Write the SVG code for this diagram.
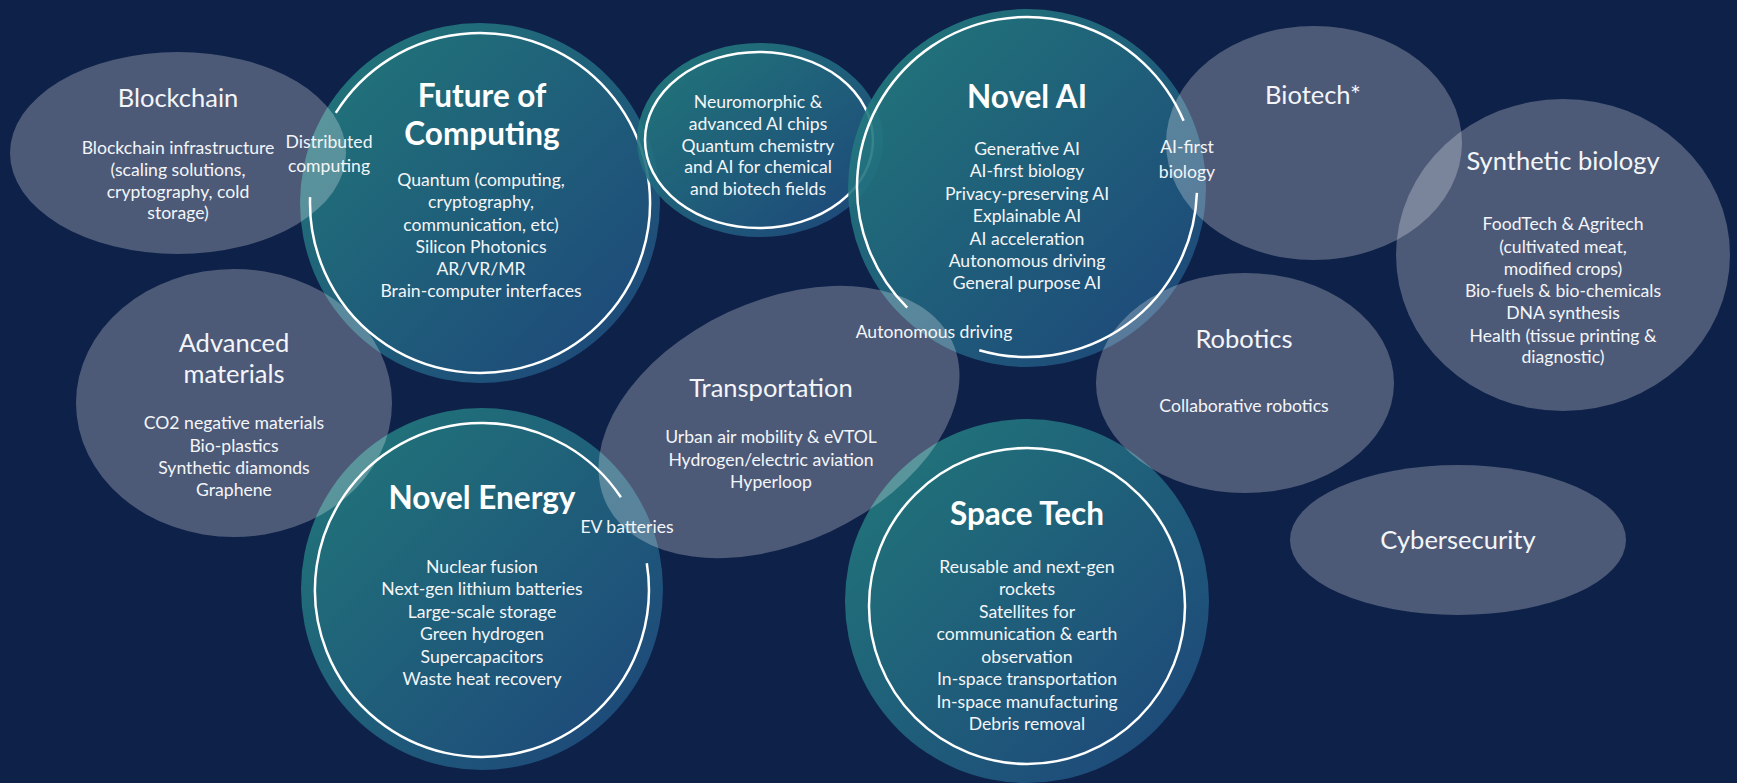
<svg xmlns="http://www.w3.org/2000/svg" width="1737" height="783" viewBox="0 0 1737 783">
<defs>
<linearGradient id="hubGrad" x1="0" y1="0" x2="1" y2="1">
<stop offset="0" stop-color="#23827f"/>
<stop offset="1" stop-color="#1f487f"/>
</linearGradient>
<style>
.hub{fill:url(#hubGrad);opacity:0.9}
.ring{fill:none;stroke:#ffffff;stroke-width:2.5}
.gray{fill:#ffffff;fill-opacity:0.26}
text{font-family:Lato,"Liberation Sans",sans-serif;fill:#f4f5f8;text-anchor:middle}
.h{font-size:31.5px;font-weight:bold;fill:#ffffff}
.gt{font-size:25.5px}
.b{font-size:17.6px}
</style>
</defs>
<rect x="0" y="0" width="1737" height="783" fill="#0e2149"/>

<g id="future-of-computing">
<circle class="hub" cx="480" cy="203" r="180"/>
<path class="ring" d="M 335.8 112.9 A 170 170 0 1 1 310.1 197.1"/>
<text class="h" x="482" y="107">Future of</text>
<text class="h" x="482" y="145">Computing</text>
<text class="b" x="481" y="186">Quantum (computing,</text>
<text class="b" x="481" y="208">cryptography,</text>
<text class="b" x="481" y="231">communication, etc)</text>
<text class="b" x="481" y="253">Silicon Photonics</text>
<text class="b" x="481" y="275">AR/VR/MR</text>
<text class="b" x="481" y="297">Brain-computer interfaces</text>
</g>

<g id="neuromorphic">
<ellipse class="hub" cx="760" cy="140" rx="123" ry="97"/>
<ellipse class="ring" cx="759" cy="140" rx="114" ry="88"/>
<text class="b" x="758" y="108">Neuromorphic &amp;</text>
<text class="b" x="758" y="130">advanced AI chips</text>
<text class="b" x="758" y="152">Quantum chemistry</text>
<text class="b" x="758" y="173">and AI for chemical</text>
<text class="b" x="758" y="195">and biotech fields</text>
</g>

<g id="novel-ai">
<circle class="hub" cx="1027" cy="188" r="179"/>
<path class="ring" d="M 1196.9 192.9 A 170 170 0 0 1 979.3 350.2"/>
<path class="ring" d="M 907.2 307.6 A 170 170 0 1 1 1183.6 120.8"/>
<text class="h" x="1027" y="108">Novel AI</text>
<text class="b" x="1027" y="155">Generative AI</text>
<text class="b" x="1027" y="177">AI-first biology</text>
<text class="b" x="1027" y="200">Privacy-preserving AI</text>
<text class="b" x="1027" y="222">Explainable AI</text>
<text class="b" x="1027" y="245">AI acceleration</text>
<text class="b" x="1027" y="267">Autonomous driving</text>
<text class="b" x="1027" y="289">General purpose AI</text>
</g>

<g id="novel-energy">
<circle class="hub" cx="482" cy="589" r="181"/>
<path class="ring" d="M 646.8 563.3 A 167 167 0 1 1 620.9 497.3"/>
<text class="h" x="482" y="509">Novel Energy</text>
<text class="b" x="482" y="573">Nuclear fusion</text>
<text class="b" x="482" y="595">Next-gen lithium batteries</text>
<text class="b" x="482" y="618">Large-scale storage</text>
<text class="b" x="482" y="640">Green hydrogen</text>
<text class="b" x="482" y="663">Supercapacitors</text>
<text class="b" x="482" y="685">Waste heat recovery</text>
</g>

<g id="space-tech">
<circle class="hub" cx="1027" cy="601" r="182"/>
<circle class="ring" cx="1027" cy="606" r="158"/>
<text class="h" x="1027" y="525">Space Tech</text>
<text class="b" x="1027" y="573">Reusable and next-gen</text>
<text class="b" x="1027" y="595">rockets</text>
<text class="b" x="1027" y="618">Satellites for</text>
<text class="b" x="1027" y="640">communication &amp; earth</text>
<text class="b" x="1027" y="663">observation</text>
<text class="b" x="1027" y="685">In-space transportation</text>
<text class="b" x="1027" y="708">In-space manufacturing</text>
<text class="b" x="1027" y="730">Debris removal</text>
</g>

<g id="blockchain">
<ellipse class="gray" cx="178" cy="153" rx="168" ry="101"/>
<text class="gt" x="178" y="107">Blockchain</text>
<text class="b" x="178" y="154">Blockchain infrastructure</text>
<text class="b" x="178" y="176">(scaling solutions,</text>
<text class="b" x="178" y="198">cryptography, cold</text>
<text class="b" x="178" y="219">storage)</text>
</g>

<g id="advanced-materials">
<ellipse class="gray" cx="234" cy="403" rx="158" ry="134"/>
<text class="gt" x="234" y="352">Advanced</text>
<text class="gt" x="234" y="383">materials</text>
<text class="b" x="234" y="429">CO2 negative materials</text>
<text class="b" x="234" y="452">Bio-plastics</text>
<text class="b" x="234" y="474">Synthetic diamonds</text>
<text class="b" x="234" y="496">Graphene</text>
</g>

<g id="transportation">
<ellipse class="gray" cx="779" cy="422" rx="191" ry="121" transform="rotate(-25 779 422)"/>
<text class="gt" x="771" y="397">Transportation</text>
<text class="b" x="771" y="443">Urban air mobility &amp; eVTOL</text>
<text class="b" x="771" y="466">Hydrogen/electric aviation</text>
<text class="b" x="771" y="488">Hyperloop</text>
</g>

<g id="biotech">
<ellipse class="gray" cx="1314" cy="143" rx="148" ry="117"/>
<text class="gt" x="1313" y="104">Biotech*</text>
</g>

<g id="synthetic-biology">
<ellipse class="gray" cx="1563" cy="255" rx="167" ry="156"/>
<text class="gt" x="1563" y="170">Synthetic biology</text>
<text class="b" x="1563" y="230">FoodTech &amp; Agritech</text>
<text class="b" x="1563" y="253">(cultivated meat,</text>
<text class="b" x="1563" y="275">modified crops)</text>
<text class="b" x="1563" y="297">Bio-fuels &amp; bio-chemicals</text>
<text class="b" x="1563" y="319">DNA synthesis</text>
<text class="b" x="1563" y="342">Health (tissue printing &amp;</text>
<text class="b" x="1563" y="363">diagnostic)</text>
</g>

<g id="robotics">
<ellipse class="gray" cx="1245" cy="383" rx="149" ry="110"/>
<text class="gt" x="1244" y="348">Robotics</text>
<text class="b" x="1244" y="412">Collaborative robotics</text>
</g>

<g id="cybersecurity">
<ellipse class="gray" cx="1458" cy="540" rx="168" ry="75"/>
<text class="gt" x="1458" y="549">Cybersecurity</text>
</g>

<g id="overlap-labels">
<text class="b" x="329" y="148">Distributed</text>
<text class="b" x="329" y="172">computing</text>
<text class="b" x="1187" y="153">AI-first</text>
<text class="b" x="1187" y="178">biology</text>
<text class="b" x="934" y="338">Autonomous driving</text>
<text class="b" x="627" y="533">EV batteries</text>
</g>

<g id="connectors"></g>
</svg>
